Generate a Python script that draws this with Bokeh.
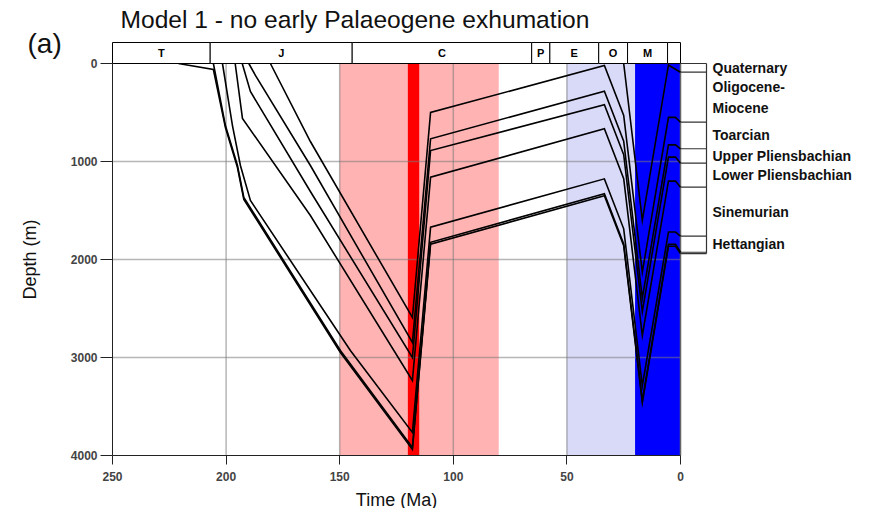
from bokeh.plotting import figure
from bokeh.models import Range1d, FixedTicker, ColumnDataSource
from bokeh.core.properties import value
from bokeh.embed import file_html
from bokeh.resources import INLINE

FONT = "Liberation Sans"

# ---------------- data ----------------
title_text = "Model 1 - no early Palaeogene exhumation"
panel_tag = "(a)"

x_ticks = [250, 200, 150, 100, 50, 0]
y_ticks = [0, 1000, 2000, 3000, 4000]

# geological periods along the top bar (Ma)
period_names = ["T", "J", "C", "P", "E", "O", "M", ""]
period_bounds = [250, 207, 144.5, 65.5, 57.5, 36, 23.3, 5.7, 0]

# shaded events (Ma)
band_start = [150, 120, 50, 20]
band_end = [80, 115, 20, 0]

# burial curves: time (Ma) and depth (m) of each horizon
top_toarcian_t = [180.5, 162.9, 118.0, 110.0, 33.5, 25.0, 16.8, 5.3, 2.2, 0.0]
top_toarcian_d = [0, 796, 2592, 500, 20, 530, 2130, 550, 550, 599]

base_toarcian_t = [190.0, 187.1, 162.9, 118.0, 110.0, 33.5, 25.0, 16.8, 5.3, 2.2, 0.0]
base_toarcian_d = [0, 122, 1041, 2847, 768, 283, 793, 2393, 830, 830, 870]

base_upl_t = [192.9, 189.3, 162.9, 118.0, 110.0, 33.5, 25.0, 16.8, 5.3, 2.2, 0.0]
base_upl_d = [0, 286, 1306, 3000, 888, 421, 931, 2531, 955, 955, 1017]

base_lpl_t = [196.0, 192.8, 162.9, 118.0, 110.0, 33.5, 25.0, 16.8, 5.3, 2.2, 0.0]
base_lpl_d = [0, 561, 1551, 3235, 1160, 666, 1176, 2776, 1200, 1200, 1262]

base_sin_t = [201.6, 197.2, 193.7, 189.3, 145.3, 118.0, 110.0, 33.5, 25.0, 16.8, 5.3, 2.2, 0.0]
base_sin_d = [0, 633, 1041, 1398, 2929, 3765, 1670, 1177, 1687, 3287, 1720, 1720, 1762]

base_hett_t = [205.6, 200.3, 195.0, 192.2, 149.7, 118.0, 110.0, 33.5, 25.0, 16.8, 5.3, 2.2, 0.0]
base_hett_d = [0, 633, 1041, 1367, 2929, 3918, 1824, 1330, 1840, 3440, 1845, 1845, 1926]

triassic_t = [221.0, 205.6, 200.3, 195.0, 192.2, 149.7, 118.0, 110.0, 33.5, 25.0, 16.8, 5.3, 2.2, 0.0]
triassic_d = [0, 61, 653, 1061, 1387, 2949, 3938, 1844, 1350, 1860, 3460, 1865, 1865, 1940]

olig_mio_t = [25.0, 16.8, 5.3, 0.0]
olig_mio_d = [0, 1600, 15, 89]

# present-day stratigraphic column (m)
unit_names = ["Quaternary", "Oligocene-Miocene", "Toarcian", "Upper Pliensbachian",
              "Lower Pliensbachian", "Sinemurian", "Hettangian"]
unit_tops = [0, 89, 599, 870, 1017, 1262, 1762]
unit_bases = [89, 599, 870, 1017, 1262, 1762, 1926]
extra_column_lines = [1940]

# ---------------- layout (pixel <-> data) ----------------
W, H = 866, 508
PX_PER_MA = 2.272
PX_PER_M = 0.098
X0_PX, Y0_PX = 680, 63          # pixel position of (0 Ma, 0 m)


def t_at(px):
    return (X0_PX - px) / PX_PER_MA


def d_at(py):
    return (py - Y0_PX) / PX_PER_M


p = figure(frame_width=W, frame_height=H,
           min_border_left=0, min_border_right=0, min_border_top=0, min_border_bottom=0,
           x_range=Range1d(t_at(0), t_at(W)), y_range=Range1d(d_at(H), d_at(0)),
           output_backend="svg", toolbar_location=None, tools="", title=None)
p.outline_line_color = None
p.grid.visible = False
p.background_fill_color = "white"
p.border_fill_color = "white"

BAR_TOP = d_at(42)

# shading
band_colors = ["#ffb3b3", "#ff0000", "#d9d9f8", "#0000ff"]
for s, e, c in zip(band_start, band_end, band_colors):
    p.quad(left=s, right=e, top=0, bottom=4000, fill_color=c, line_color=None)

# grid
grid_col = "#7a7a7a"
for xt in x_ticks[1:-1]:
    p.segment(x0=xt, y0=0, x1=xt, y1=4000, line_color=grid_col, line_alpha=0.55, line_width=1.5)
for yt in y_ticks[1:-1]:
    p.segment(x0=250, y0=yt, x1=0, y1=yt, line_color=grid_col, line_alpha=0.55, line_width=1.5)

# right frame edge
p.segment(x0=0, y0=0, x1=0, y1=4000, line_color="#666666", line_width=1.5)

# burial curves
curves = [
    (triassic_t, triassic_d),
    (base_hett_t, base_hett_d),
    (base_sin_t, base_sin_d),
    (base_lpl_t, base_lpl_d),
    (base_upl_t, base_upl_d),
    (base_toarcian_t, base_toarcian_d),
    (top_toarcian_t, top_toarcian_d),
    (olig_mio_t, olig_mio_d),
]
src = ColumnDataSource(dict(xs=[c[0] for c in curves], ys=[c[1] for c in curves]))
p.multi_line(xs="xs", ys="ys", source=src, line_color="black", line_width=1.6,
             line_join="miter")

# period bar
p.quad(left=period_bounds[:-1], right=period_bounds[1:], top=BAR_TOP, bottom=0,
       fill_color="white", line_color="black", line_width=1)
mids = [(a + b) / 2 for a, b in zip(period_bounds[:-1], period_bounds[1:])]
p.text(x=mids, y=[BAR_TOP / 2] * len(mids), text=period_names,
       text_font=value(FONT), text_font_size="11px", text_font_style="bold",
       text_align="center", text_baseline="middle", text_color="black")

# stratigraphic column
col_right = t_at(706)
col_lines = sorted(set(unit_tops + unit_bases + extra_column_lines))
for dl in col_lines:
    p.segment(x0=0, y0=dl, x1=col_right, y1=dl, line_color="#333333", line_width=1.2)
p.segment(x0=col_right, y0=0, x1=col_right, y1=max(col_lines), line_color="#333333",
          line_width=1.2)

lab_t, lab_y = [], []
for name, top, base in zip(unit_names, unit_tops, unit_bases):
    mid = (top + base) / 2
    if "-" in name:
        first, second = name.split("-")
        lab_t += [first + "-", second]
        lab_y += [mid - 105, mid + 110]
    else:
        lab_t.append(name)
        lab_y.append(mid)
p.text(x=[t_at(712)] * len(lab_t), y=lab_y, text=lab_t, text_font=value(FONT),
       text_font_size="14px", text_font_style="bold", text_align="left",
       text_baseline="middle", text_color="#111111")

# title and panel tag
p.text(x=[t_at(120)], y=[d_at(19)], text=[title_text], text_font=value(FONT),
       text_font_size="24.6px", text_align="left", text_baseline="middle",
       text_color="#111111")
p.text(x=[t_at(27)], y=[d_at(43)], text=[panel_tag], text_font=value(FONT),
       text_font_size="28px", text_align="left", text_baseline="middle",
       text_color="#111111")

# axes (placed at the data edges of the burial plot)
for ax in (p.xaxis, p.yaxis):
    ax.major_tick_in = 0
    ax.minor_tick_in = 0
    ax.minor_tick_out = 0
    ax.axis_line_color = "#222222"
    ax.major_tick_line_color = "#222222"
    ax.major_label_text_font = FONT
    ax.major_label_text_font_size = "12px"
    ax.major_label_text_font_style = "bold"
    ax.axis_label_text_font = FONT
    ax.axis_label_text_font_size = "18px"
    ax.axis_label_text_font_style = "normal"
    ax.axis_label_text_color = "#111111"

p.xaxis.ticker = FixedTicker(ticks=x_ticks)
p.xaxis.bounds = (0, 250)
p.xaxis.fixed_location = 4000
p.xaxis.axis_label = "Time (Ma)"
p.xaxis.major_tick_out = 9
p.xaxis.major_label_standoff = 7
p.xaxis.axis_label_standoff = 6

p.yaxis.ticker = FixedTicker(ticks=y_ticks)
p.yaxis.bounds = (0, 4000)
p.yaxis.fixed_location = 250
p.yaxis.axis_label = "Depth (m)"
p.yaxis.major_tick_out = 12
p.yaxis.major_label_standoff = 3
p.yaxis.axis_label_standoff = 28

open("out.html", "w").write(file_html(p, INLINE))
